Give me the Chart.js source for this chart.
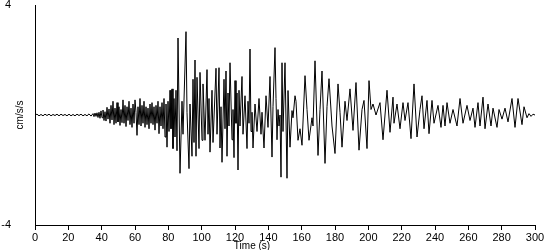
<!DOCTYPE html>
<html>
<head>
<meta charset="utf-8">
<script src="https://cdn.jsdelivr.net/npm/chart.js@4.4.1/dist/chart.umd.min.js"></script>
<style>
  html, body { margin: 0; padding: 0; background: #fff; }
  #wrap { width: 550px; height: 250px; }
</style>
</head>
<body>
<div id="wrap"><canvas id="chart" width="550" height="250"></canvas></div>
<script>
// values, seconds / cm/s/s
const quietTimes = [
  0, 1.2, 2.4, 3.6, 4.8, 6.0, 7.2, 8.4, 9.6, 10.8,
  12.0, 13.2, 14.4, 15.6, 16.8, 18.0, 19.2, 20.4, 21.6, 22.8,
  24.0, 25.2, 26.4, 27.6, 28.8, 30.0, 31.2, 32.4, 33.6, 34.8,
];
const quietAccel = [
  0, 0.03, -0.03, 0.02, -0.03, 0.03, -0.02, 0.03, -0.03, 0.02,
  -0.02, 0.03, -0.03, 0.03, -0.02, 0.02, -0.03, 0.03, -0.03, 0.02,
  -0.03, 0.03, -0.02, 0.03, -0.03, 0.02, -0.03, 0.04, -0.04, 0.05,
];

const onsetTimes = [
  35.4, 36.0, 36.6, 37.2, 37.8, 38.4, 39.0, 39.6, 40.2, 40.8,
  41.4, 42.0, 42.6, 43.2, 43.8, 44.4, 45.0, 45.6, 46.2, 46.8,
  47.4, 48.0, 48.6, 49.2, 49.8, 50.4, 51.0, 51.6, 52.2, 52.8,
  53.4, 54.0, 54.6, 55.2, 55.8, 56.4, 57.0, 57.6, 58.2, 58.8,
  59.4, 60.0, 60.6, 61.2, 61.8, 62.4, 63.0, 63.6, 64.2, 64.8,
  65.4, 66.0, 66.6, 67.2, 67.8, 68.4, 69.0, 69.6, 70.2, 70.8,
  71.4, 72.0, 72.6, 73.2, 73.8, 74.4, 75.0, 75.6, 76.2, 76.8,
  77.4, 78.0, 78.6, 79.2, 79.8, 80.4, 81.0, 81.6, 82.2, 82.8,
  83.4, 84.0, 84.6, 85.2,
];
const onsetAccel = [
  -0.06, 0.07, -0.05, 0.08, -0.09, 0.1, -0.12, 0.15, -0.1, 0.18,
  -0.2, 0.12, -0.22, 0.28, -0.15, 0.22, -0.3, 0.35, -0.18, 0.5,
  -0.35, 0.25, -0.3, 0.45, -0.25, 0.3, -0.38, 0.2, -0.28, 0.55,
  -0.3, 0.35, -0.42, 0.3, -0.2, 0.5, -0.35, 0.25, -0.45, 0.4,
  -0.3, 0.55, 0.1, -0.74, 0.3, -0.35, 0.6, -0.4, 0.35, -0.3,
  0.5, -0.45, 0.3, -0.35, 0.25, -0.5, 0.4, -0.3, 0.45, -0.35,
  0.3, -0.55, 0.35, -0.3, 0.5, -0.68, 0.3, -0.4, 0.45, -0.5,
  0.6, -0.8, 0.4, -1.17, 0.5, -0.6, 0.9, -0.5, 0.95, -1.22,
  0.6, -0.8, 0.9, -1.3,
];

const strongTimes = [
  85.8, 87.0, 88.2, 88.8, 90.6, 91.2, 92.4, 93.0, 94.2, 94.8,
  95.4, 96.0, 96.6, 97.2, 98.4, 99.0, 100.2, 100.8, 102.0, 103.2,
  103.8, 104.4, 105.0, 106.2, 106.8, 108.6, 109.2, 110.4, 111.0, 111.6,
  112.2, 113.4, 114.0, 114.6, 115.2, 115.8, 116.4, 117.0, 118.2, 118.8,
  119.4, 120.0, 120.6, 121.2, 121.8, 122.4, 123.0, 124.2, 124.8, 126.0,
  127.2, 127.8, 128.4, 129.0, 129.6, 130.2, 130.8, 132.0, 133.2, 134.4,
  135.6, 136.2, 137.4, 138.6, 139.8, 141.0, 142.2, 142.8, 144.0, 144.6,
  145.2, 145.8, 146.4, 147.0, 147.6, 148.2, 148.8, 150.0, 151.2, 151.8,
  153.0, 154.2, 154.8, 156.0, 156.6, 157.8, 159.0, 160.2, 162.0, 163.2,
  164.4, 166.2, 166.8, 168.0, 169.8, 171.0, 172.2, 174.0, 175.2, 176.4,
  178.2, 180.0, 181.8, 183.0, 184.2, 186.0, 187.2, 189.0, 190.8, 192.6,
  194.4, 196.2, 197.4, 199.2, 200.4, 201.6, 202.8, 204.6,
];
const strongAccel = [
  2.8, -2.12, 0.5, -0.7, 3.03, 0.1, -1.95, 0.4, -1.5, 1.3,
  -1.0, 2.0, -1.5, 1.37, -1.22, 1.55, -0.92, 1.13, -0.92, 1.65,
  -0.7, 0.6, -1.35, 0.9, -1.0, 1.7, -0.7, 1.72, -1.2, 0.3,
  -1.72, 1.3, -0.5, 1.6, -1.5, 0.8, -0.4, 1.9, -0.9, 0.2,
  -1.55, 1.25, -0.3, 0.8, -2.0, 0.9, -0.4, 1.4, -0.7, 0.7,
  -1.22, 0.5, -0.3, 2.4, -0.6, 0.1, -1.2, 0.4, -0.6, 0.6,
  -0.7, 0.1, -1.2, 0.7, -0.45, 1.4, -1.53, 0.3, 2.45, 0.6,
  -0.9, 0.2, -0.4, 0.0, -2.26, 1.9, -0.6, 1.9, -2.3, 0.89,
  -1.17, 0.16, -0.1, 0.7, 0.5, -0.92, -0.5, -1.1, 1.43, 0.2,
  -0.92, -0.1, -0.4, 1.97, -1.47, 0.2, 1.6, -1.76, 0.3, 1.32,
  -0.4, -1.4, 1.13, 0.1, -1.17, 0.5, -0.2, 0.95, -0.56, 1.18,
  -1.28, 0.2, 0.53, -1.22, 1.25, 0.2, 0.4, 0.0,
];

const codaTimes = [
  207.0, 208.8, 211.2, 213.0, 214.8, 215.4, 217.2, 219.0, 220.8, 222.0,
  223.8, 225.6, 227.4, 229.2, 231.0, 232.2, 233.4, 235.2, 236.4, 238.2,
  239.4, 241.8, 243.6, 244.8, 246.0, 247.2, 249.0, 250.8, 253.2, 255.0,
  256.8, 259.2, 261.0, 262.8, 264.0, 265.8, 267.0, 268.8, 270.0, 271.8,
  273.6, 274.8, 277.2, 278.4, 280.2, 282.0, 283.8, 286.2, 288.0, 289.8,
  292.2, 293.4, 295.2, 296.4, 297.6, 298.8, 300.0,
];
const codaAccel = [
  0.45, -0.9, 0.9, -0.63, 0.65, -0.3, 0.4, -0.5, 0.45, -0.2,
  0.45, -0.86, 1.13, -0.8, 0.2, 0.7, -0.5, 0.53, -0.68, 0.53,
  -0.3, 0.35, -0.45, 0.35, -0.4, 0.45, -0.3, 0.2, -0.4, 0.6,
  -0.3, 0.35, -0.2, 0.25, -0.45, 0.45, -0.4, 0.65, -0.5, 0.4,
  -0.4, 0.25, -0.45, 0.2, -0.15, 0.25, -0.25, 0.6, -0.45, 0.6,
  -0.35, 0.3, -0.1, 0.05, -0.05, 0.03, 0.0,
];

const yTickValues = [-4, 4];
const xTitle = 'Time (s)';
const yTitle = 'cm/s/s';

const times = [...quietTimes, ...onsetTimes, ...strongTimes, ...codaTimes];
const accel = [...quietAccel, ...onsetAccel, ...strongAccel, ...codaAccel];
const points = times.map((t, i) => ({ x: t, y: accel[i] }));

const FONT = '"Liberation Sans", Arial, sans-serif';

// axis titles sit off-centre in the original, so draw them by hand
const axisTitles = {
  id: 'axisTitles',
  afterDraw(chart) {
    const { ctx, chartArea } = chart;
    ctx.save();
    ctx.fillStyle = '#000';
    ctx.font = '10px ' + FONT;
    ctx.textAlign = 'center';
    ctx.textBaseline = 'middle';
    ctx.fillText(xTitle, 252, 246);
    ctx.translate(20, (chartArea.top + chartArea.bottom) / 2);
    ctx.rotate(-Math.PI / 2);
    ctx.fillText(yTitle, 0, 0);
    ctx.restore();
  },
};

new Chart(document.getElementById('chart'), {
  type: 'line',
  data: {
    datasets: [
      {
        data: points,
        borderColor: '#000',
        borderWidth: 1,
        pointRadius: 0,
        fill: false,
        tension: 0,
      },
    ],
  },
  options: {
    responsive: false,
    animation: false,
    parsing: false,
    layout: { padding: { top: 5, right: 15, left: 0, bottom: 0 } },
    scales: {
      x: {
        type: 'linear',
        min: 0,
        max: 300,
        afterFit: (scale) => {
          scale.height = 25;
          scale.paddingLeft = 0;
          scale.paddingRight = 0;
        },
        ticks: {
          stepSize: 20,
          autoSkip: false,
          maxRotation: 0,
          padding: 1,
          color: '#000',
          font: { family: FONT, size: 11 },
        },
        grid: {
          drawOnChartArea: false,
          drawTicks: true,
          tickLength: 5,
          color: '#000',
        },
        border: { display: true, color: '#000', width: 1 },
      },
      y: {
        min: -4,
        max: 4,
        afterBuildTicks: (scale) => {
          scale.ticks = yTickValues.map((v) => ({ value: v }));
        },
        afterFit: (scale) => {
          scale.width = 35;
          scale.paddingTop = 0;
          scale.paddingBottom = 0;
        },
        ticks: {
          padding: 24,
          color: '#000',
          font: { family: FONT, size: 11 },
        },
        grid: { drawOnChartArea: false, drawTicks: false },
        border: { display: true, color: '#000', width: 1 },
      },
    },
    plugins: {
      legend: { display: false },
      tooltip: { enabled: false },
    },
  },
  plugins: [axisTitles],
});
</script>
</body>
</html>
